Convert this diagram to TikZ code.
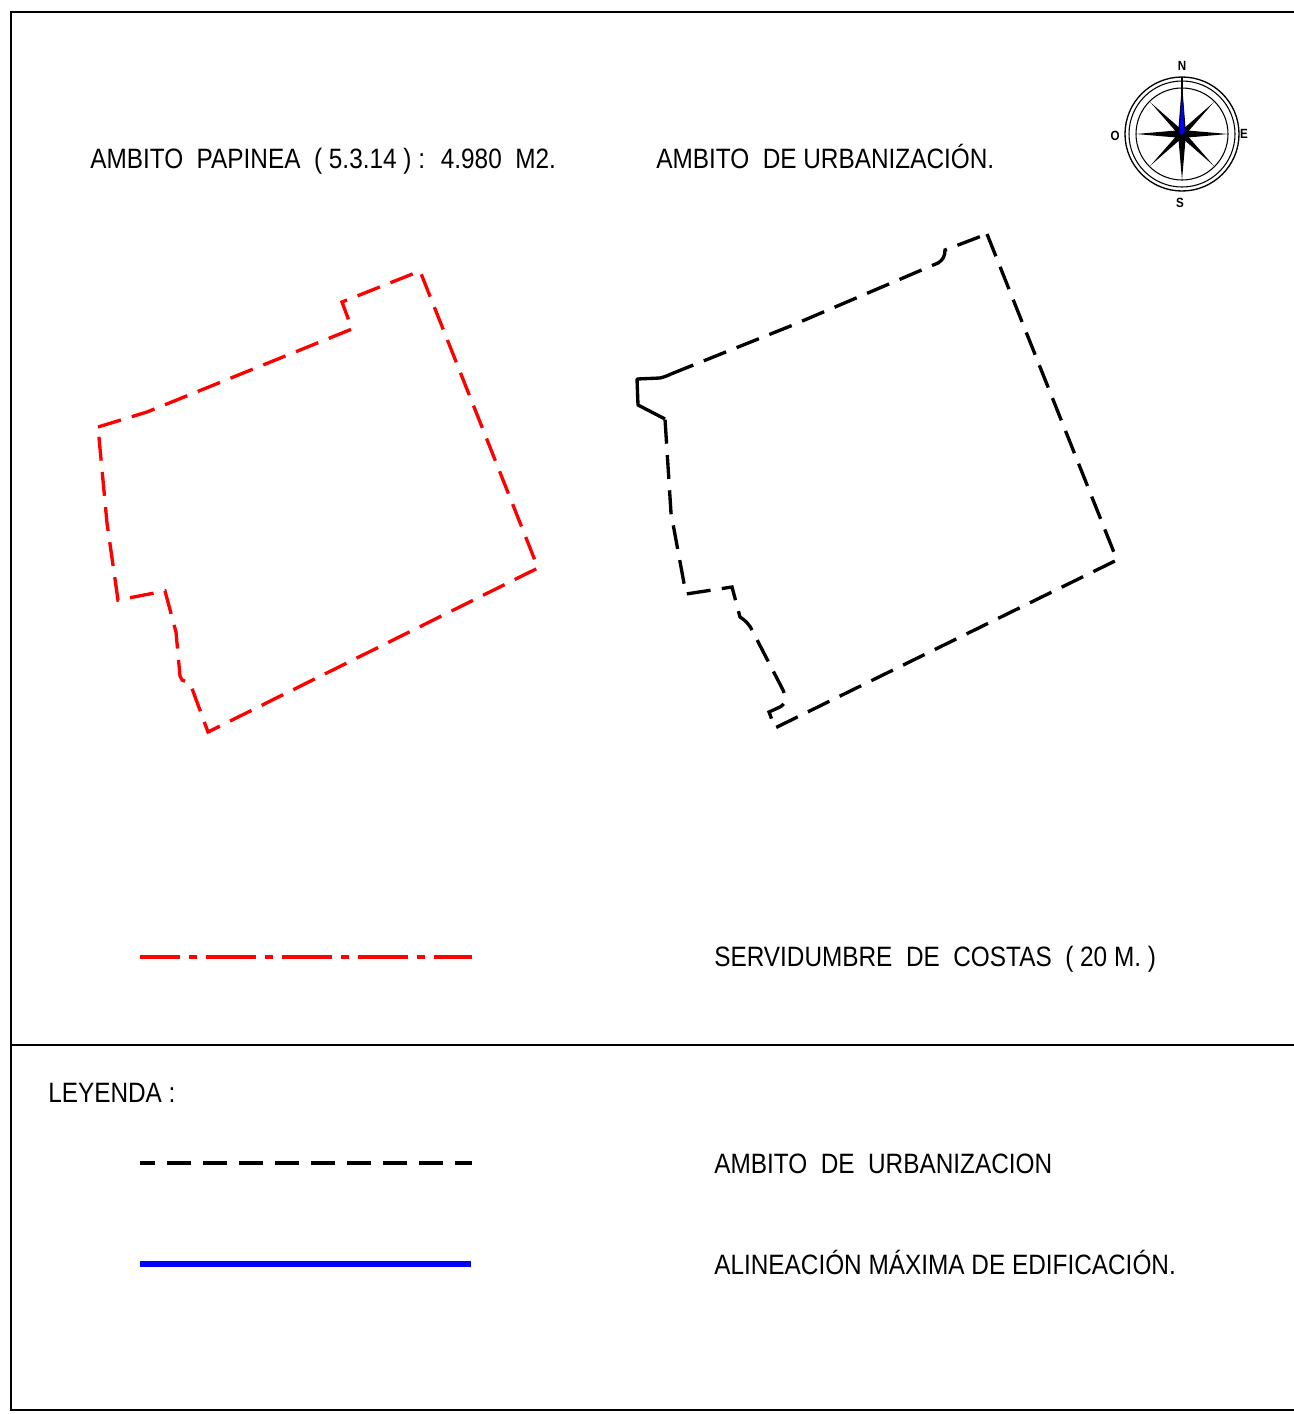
\documentclass[tikz,border=0pt]{standalone}
\usepackage{fontspec}
\setmainfont[FakeStretch=0.87]{Liberation Sans}
\usepackage{tikz}
\definecolor{plred}{RGB}{255, 0, 0}
\definecolor{plblue}{RGB}{0, 0, 255}

\begin{document}
\begin{tikzpicture}[x=0.75pt,y=-0.75pt,
  txt/.style={anchor=base west,inner sep=0pt,font=\fontsize{21}{25}\selectfont},
  cardinal/.style={inner sep=0pt,font=\fontsize{10}{12}\selectfont\bfseries},
  frame/.style={line width=1.4pt},
  ambito/.style={line width=2.5pt,dash pattern=on 18pt off 8.5pt},
  servidumbre/.style={plred,line width=2.5pt,dash pattern=on 37.5pt off 6.4pt on 6pt off 7.1pt,dash phase=7.5pt},
  alineacion/.style={plblue,line width=3.8pt}]
\useasboundingbox (0,0) rectangle (1294,1414);
% frame and divider
\draw[frame] (1294,12) -- (11,12) -- (11,1410) -- (1294,1410);
\draw[frame] (11,1045) -- (1294,1045);

% titles
\node[txt] (papinea) at (90,168) {AMBITO~ PAPINEA~ ( 5.3.14 ) :~ 4.980~ M2.};
\node[txt] (urbtitle) at (656,168) {AMBITO~ DE URBANIZACIÓN.};

% compass
\begin{scope}[shift={(1182,134)}]
    \draw[line width=1pt] (0,0) circle (57);
    \draw[line width=0.8pt] (0,0) circle (53);
    \draw[line width=0.8pt] (0,0) circle (46);
    \foreach \a/\r/\w in {0/46/4,45/45/3,90/46/4,135/45/3,180/46/4,225/45/3,270/50/4,315/45/3}
        \fill (\a:\r) -- (\a+90:\w) -- (\a+180:2) -- (\a-90:\w) -- cycle;
    \draw[line width=0.8pt] (0,0) -- (0,-57);
    \filldraw[fill=plblue,draw=black,line width=0.4pt] (0,-42) -- (3,-2) arc (0:180:3) -- cycle;
    \node[cardinal] (north) at (0,-68) {N};
    \node[cardinal] (south) at (-2,69) {S};
    \node[cardinal] (west) at (-67,2) {O};
    \node[cardinal] (east) at (62,0) {E};
\end{scope}

% ambito papinea (red)
\draw[ambito,plred] (98,427) -- (147,412) -- (352,329) -- (342,302) -- (420,271)
    -- (538,568) -- (208,732) -- (190,683) -- (182,680) -- (180,676) -- (176,632)
    -- (165,591) -- (118,600) -- (107,523) -- cycle;

% ambito de urbanizacion (black)
\draw[ambito] (987,234) -- (1117,560) -- (775,728) -- (769,712) -- (780,707)
    .. controls (787,703) and (786,696) .. (783,690) -- (753,632)
    .. controls (750,625) and (745,620) .. (740,617) -- (732,587) -- (686,594)
    -- (671,513) -- (665,419);
\draw[line width=2.5pt,line join=round] (665,419) -- (638,405) -- (637,379) -- (660,378)
    .. controls (664,377) and (667,376) .. (671,374);
\draw[ambito] (671,374) -- (793,325) -- (938,263)
    .. controls (943,260) and (945,256) .. (945,250) -- (987,234);

% legend
\node[txt] (costas) at (714,966) {SERVIDUMBRE~ DE~ COSTAS~ ( 20 M. )};
\node[txt] (leyenda) at (48,1102) {LEYENDA :};
\node[txt] (ambleg) at (714,1173) {AMBITO~ DE~ URBANIZACION};
\node[txt] (alinleg) at (714,1274) {ALINEACIÓN MÁXIMA DE EDIFICACIÓN.};

\coordinate (costasA) at (140,957);
\coordinate (costasB) at (472,957);
\coordinate (ambA) at (140,1163);
\coordinate (ambB) at (472,1163);
\coordinate (alinA) at (140,1264);
\coordinate (alinB) at (471,1264);
\draw[servidumbre] (costasA) -- (costasB);
\draw[line width=2.5pt,dash pattern=on 18pt off 9pt,dash phase=6.75pt] (ambA) -- (ambB);
\draw[alineacion] (alinA) -- (alinB);
\end{tikzpicture}
\end{document}
